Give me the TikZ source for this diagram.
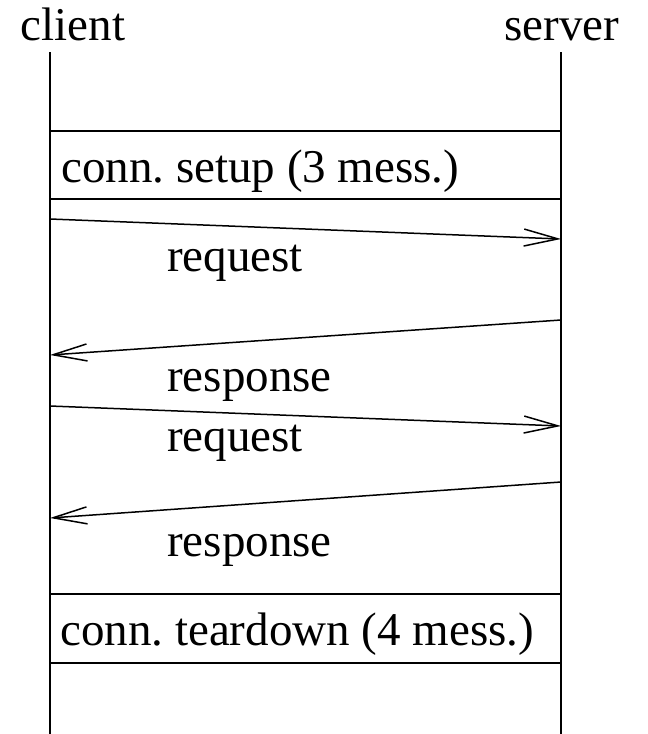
\documentclass[tikz,border=0pt]{standalone}
\usepackage{fontspec}
\setmainfont{Liberation Serif}
\usetikzlibrary{arrows.meta}
\frenchspacing
\begin{document}
\begin{tikzpicture}[x=1pt,y=-1pt,
  lbl/.style={inner sep=0pt,anchor=base west,font=\fontsize{47}{56}\selectfont},
  life/.style={line width=1.5pt},
  msg/.style={line width=1.5pt,-{Straight Barb[length=34pt,width=17pt,line width=1.5pt]}}]
\useasboundingbox (0,0) rectangle (648,734);
% headers
\node[lbl,anchor=base] (client) at (73,40) {client};
\node[lbl,anchor=base] (server) at (562,40) {server};
% lifelines
\coordinate (cTop) at (50,52);
\coordinate (cBot) at (50,734);
\coordinate (sTop) at (561,52);
\coordinate (sBot) at (561,734);
\draw[life] (cTop) -- (cBot);
\draw[life] (sTop) -- (sBot);
% setup box
\coordinate (b1l) at (50,131); \coordinate (b1r) at (561,131);
\coordinate (b2l) at (50,199); \coordinate (b2r) at (561,199);
\draw[life] (b1l) -- (b1r);
\draw[life] (b2l) -- (b2r);
\node[lbl] (setup) at (61,182) {conn. setup (3 mess.)};
% messages
\coordinate (m1a) at (50,219);  \coordinate (m1b) at (561,239);
\coordinate (m2a) at (561,320); \coordinate (m2b) at (50,355);
\coordinate (m3a) at (50,406);  \coordinate (m3b) at (561,426);
\coordinate (m4a) at (561,482); \coordinate (m4b) at (50,518);
\draw[msg] (m1a) -- (m1b);
\draw[msg] (m2a) -- (m2b);
\draw[msg] (m3a) -- (m3b);
\draw[msg] (m4a) -- (m4b);
\node[lbl] (req1) at (167,271) {request};
\node[lbl] (resp1) at (167,391) {response};
\node[lbl] (req2) at (167,451) {request};
\node[lbl] (resp2) at (167,556) {response};
% teardown box
\coordinate (b3l) at (50,594); \coordinate (b3r) at (561,594);
\coordinate (b4l) at (50,663); \coordinate (b4r) at (561,663);
\draw[life] (b3l) -- (b3r);
\draw[life] (b4l) -- (b4r);
\node[lbl] (tear) at (60,645) {conn. teardown (4 mess.)};
\end{tikzpicture}
\end{document}
